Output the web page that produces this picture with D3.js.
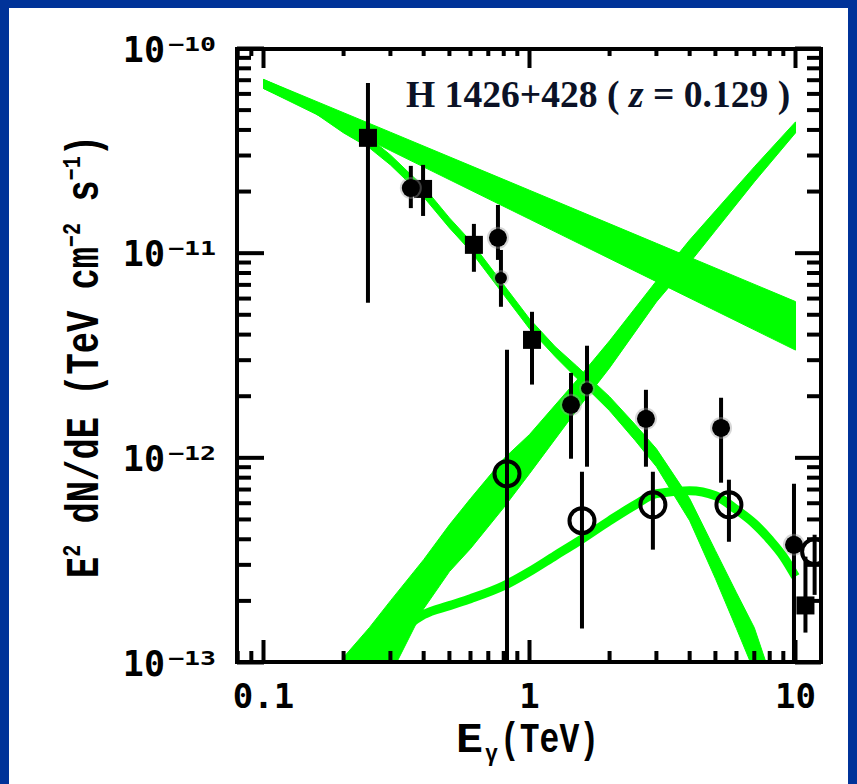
<!DOCTYPE html>
<html>
<head>
<meta charset="utf-8">
<script src="https://cdn.jsdelivr.net/npm/d3@7"></script>
<style>
  html, body { margin: 0; padding: 0; background: #003399; }
  svg { display: block; }
</style>
</head>
<body>
<svg id="chart" width="857" height="784"></svg>
<script>
// ---- axis domains and tick labels ----
const xDomain = [0.0795, 12.47];          // TeV, edges of the frame
const yDomain = [1e-13, 1e-10];           // TeV cm^-2 s^-1
const xTickValues = [0.1, 1, 10];
const xTickText = ["0.1", "1", "10"];
const yTickValues = [1e-10, 1e-11, 1e-12, 1e-13];
const yTickExp = ["\u221210", "\u221211", "\u221212", "\u221213"];

// ---- model bands (energy, lower and upper flux) ----
const intrinsicE  = [0.1, 0.3, 1, 3, 10];
const intrinsicLo = [6.38e-11, 3.17e-11, 1.467e-11, 7.26e-12, 3.36e-12];
const intrinsicHi = [7.06e-11, 3.90e-11, 2.03e-11, 1.117e-11, 5.80e-12];

const absorbedE  = [0.1, 0.15, 0.2, 0.25, 0.3, 0.4, 0.5, 0.6, 0.8, 1, 1.25, 1.5, 2, 2.5, 3, 4, 5, 6, 7, 8];
const absorbedLo = [6.38e-11, 5.01e-11, 3.87e-11, 3.27e-11, 2.70e-11, 1.88e-11, 1.329e-11, 1.026e-11, 6.26e-12, 4.27e-12,
                    3.12e-12, 2.46e-12, 1.70e-12, 1.213e-12, 9.05e-13, 4.93e-13, 2.57e-13, 1.464e-13, 9.03e-14, 4.92e-14];
const absorbedHi = [7.06e-11, 5.60e-11, 4.33e-11, 3.66e-11, 3.02e-11, 2.11e-11, 1.487e-11, 1.148e-11, 7.00e-12, 4.78e-12,
                    3.49e-12, 2.82e-12, 1.99e-12, 1.451e-12, 1.107e-12, 6.32e-13, 3.52e-13, 2.19e-13, 1.48e-13, 8.83e-14];

const risingE  = [0.2, 0.25, 0.3, 0.4, 0.5, 0.6, 0.8, 1, 1.5, 2, 3, 4, 5, 7, 10];
const risingLo = [3.4e-14, 5.6e-14, 8.7e-14, 1.83e-13, 2.78e-13, 3.60e-13, 5.71e-13, 8.37e-13, 1.70e-12, 2.75e-12,
                  5.78e-12, 8.97e-12, 1.29e-11, 2.23e-11, 3.87e-11];
const risingHi = [1.06e-13, 1.48e-13, 2.0e-13, 3.18e-13, 4.71e-13, 6.32e-13, 9.9e-13, 1.30e-12, 2.38e-12, 3.73e-12,
                  7.32e-12, 1.16e-11, 1.61e-11, 2.64e-11, 4.38e-11];

// ---- model curve through the open points ----
const curveE = [0.25, 0.3, 0.4, 0.5, 0.6, 0.8, 1, 1.25, 1.5, 2, 2.5, 3, 4, 5, 6, 7, 8, 9, 10];
const curveF = [9.44e-14, 1.265e-13, 1.714e-13, 1.896e-13, 2.05e-13, 2.37e-13, 2.78e-13, 3.33e-13, 3.85e-13,
                4.93e-13, 5.90e-13, 6.68e-13, 6.91e-13, 6.53e-13, 5.58e-13, 4.77e-13, 3.98e-13, 3.29e-13, 2.63e-13];

// ---- measured points ----
const squareE  = [0.247, 0.398, 0.618, 1.022, 10.9];
const squareF  = [3.66e-11, 2.06e-11, 1.098e-11, 3.77e-12, 1.90e-13];
const squareHi = [6.79e-11, 2.70e-11, 1.39e-11, 5.17e-12, 3.29e-13];
const squareLo = [5.72e-12, 1.52e-11, 8.11e-12, 2.28e-12, 1.40e-13];

const dotE  = [0.358, 0.761, 1.432, 2.74, 5.25, 9.87];
const dotF  = [2.08e-11, 1.188e-11, 1.816e-12, 1.552e-12, 1.40e-12, 3.76e-13];
const dotHi = [2.67e-11, 1.72e-11, 2.60e-12, 2.15e-12, 1.966e-12, 7.47e-13];
const dotLo = [1.66e-11, 9.27e-12, 9.90e-13, 9.05e-13, 7.56e-13, 5e-14];

const smallDotE  = [0.781, 1.645];
const smallDotF  = [7.57e-12, 2.18e-12];
const smallDotHi = [1.037e-11, 3.53e-12];
const smallDotLo = [5.47e-12, 9.05e-13];

const ringE  = [0.823, 1.575, 2.91, 5.62, 11.8];
const ringF  = [8.36e-13, 4.93e-13, 5.90e-13, 5.90e-13, 3.48e-13];
const ringHi = [3.37e-12, 8.55e-13, 8.55e-13, 7.82e-13, 4.21e-13];
const ringLo = [5e-14, 1.464e-13, 3.56e-13, 3.89e-13, 2.14e-13];

// ---- layout ----
const frame = { left: 237, right: 821, top: 49, bottom: 662 };
const GREEN = "#00ff00";

const svg = d3.select("#chart");
svg.append("rect").attr("x", 9).attr("y", 8).attr("width", 839).attr("height", 776).attr("fill", "#ffffff");

const x = d3.scaleLog().domain(xDomain).range([frame.left, frame.right]);
const y = d3.scaleLog().domain(yDomain).range([662.5, 48.5]);

svg.append("defs").append("clipPath").attr("id", "plotClip")
  .append("rect")
  .attr("x", frame.left).attr("y", frame.top)
  .attr("width", frame.right - frame.left).attr("height", frame.bottom - frame.top);

const plot = svg.append("g").attr("clip-path", "url(#plotClip)");

const zipBand = (E, lo, hi) => E.map((e, i) => ({ e, lo: lo[i], hi: hi[i] }));
const area = d3.area().x(d => x(d.e)).y0(d => y(d.lo)).y1(d => y(d.hi));

[[intrinsicE, intrinsicLo, intrinsicHi],
 [absorbedE, absorbedLo, absorbedHi],
 [risingE, risingLo, risingHi]].forEach(([E, lo, hi]) => {
  plot.append("path").datum(zipBand(E, lo, hi))
    .attr("d", area).attr("fill", GREEN).attr("stroke", GREEN).attr("stroke-width", 1);
});

plot.append("path")
  .datum(curveE.map((e, i) => ({ e, f: curveF[i] })))
  .attr("d", d3.line().curve(d3.curveMonotoneX).x(d => x(d.e)).y(d => y(d.f)))
  .attr("fill", "none").attr("stroke", GREEN).attr("stroke-width", 9);

// error bars
function errorBars(E, hi, lo) {
  plot.append("g").selectAll("line").data(E).join("line")
    .attr("x1", d => x(d)).attr("x2", d => x(d))
    .attr("y1", (d, i) => y(hi[i])).attr("y2", (d, i) => y(lo[i]))
    .attr("stroke", "#000").attr("stroke-width", 4);
}
errorBars(squareE, squareHi, squareLo);
errorBars(dotE, dotHi, dotLo);
errorBars(smallDotE, smallDotHi, smallDotLo);
errorBars(ringE, ringHi, ringLo);

// filled squares
plot.append("g").selectAll("rect").data(squareE).join("rect")
  .attr("x", d => x(d) - 9).attr("y", (d, i) => y(squareF[i]) - 9)
  .attr("width", 18).attr("height", 18).attr("fill", "#000");

// filled dots with a soft grey rim
function dots(E, F, r) {
  const g = plot.append("g");
  g.selectAll("circle.rim").data(E).join("circle").attr("class", "rim")
    .attr("cx", d => x(d)).attr("cy", (d, i) => y(F[i])).attr("r", r + 2)
    .attr("fill", "#9a9a9a").attr("opacity", 0.4);
  g.selectAll("circle.core").data(E).join("circle").attr("class", "core")
    .attr("cx", d => x(d)).attr("cy", (d, i) => y(F[i])).attr("r", r)
    .attr("fill", "#000");
}
dots(dotE, dotF, 9);
dots(smallDotE, smallDotF, 6);

// open rings
plot.append("g").selectAll("circle").data(ringE).join("circle")
  .attr("cx", d => x(d)).attr("cy", (d, i) => y(ringF[i])).attr("r", 12.5)
  .attr("fill", "none").attr("stroke", "#000").attr("stroke-width", 4);

// ---- frame and ticks ----
const isMajor = v => Math.abs(Math.log10(v) - Math.round(Math.log10(v))) < 1e-6;
const ticks = svg.append("g").attr("stroke", "#000").attr("stroke-width", 4);
x.ticks().forEach(v => {
  const px = x(v), maj = isMajor(v);
  ticks.append("line").attr("x1", px).attr("x2", px)
    .attr("y1", frame.bottom).attr("y2", frame.bottom - (maj ? 22 : 11));
  ticks.append("line").attr("x1", px).attr("x2", px)
    .attr("y1", frame.top).attr("y2", frame.top + (maj ? 19 : 7));
});
y.ticks().forEach(v => {
  const py = y(v), maj = isMajor(v);
  ticks.append("line").attr("y1", py).attr("y2", py)
    .attr("x1", frame.left).attr("x2", frame.left + (maj ? 27 : 14));
  ticks.append("line").attr("y1", py).attr("y2", py)
    .attr("x1", frame.right).attr("x2", frame.right - (maj ? 26 : 14));
});
svg.append("rect")
  .attr("x", frame.left).attr("y", frame.top)
  .attr("width", frame.right - frame.left).attr("height", frame.bottom - frame.top)
  .attr("fill", "none").attr("stroke", "#000").attr("stroke-width", 4);

// ---- tick labels ----
const monoFont = "'DejaVu Sans Mono', monospace";
svg.append("g").selectAll("text").data(xTickValues).join("text")
  .attr("x", d => x(d)).attr("y", 708)
  .attr("text-anchor", "middle")
  .attr("font-family", monoFont).attr("font-weight", "bold").attr("font-size", 34)
  .text((d, i) => xTickText[i]);

const yLab = svg.append("g").attr("font-family", monoFont).attr("font-weight", "bold");
yTickValues.forEach((v, i) => {
  const py = y(v);
  yLab.append("text").attr("x", 165).attr("y", py + 13)
    .attr("text-anchor", "end").attr("font-size", 35).text("10");
  yLab.append("text").attr("x", 168).attr("y", py + 2)
    .attr("font-size", 20).attr("textLength", 48).attr("lengthAdjust", "spacingAndGlyphs")
    .text(yTickExp[i]);
});

// ---- axis titles ----
const titleFont = "'Liberation Mono', 'Courier New', monospace";
const xTitle = svg.append("g")
  .attr("font-family", titleFont).attr("font-weight", "bold");
xTitle.append("text").attr("x", 456).attr("y", 752).attr("font-size", 42)
  .attr("textLength", 27).attr("lengthAdjust", "spacingAndGlyphs").text("E");
xTitle.append("text").attr("x", 485).attr("y", 761).attr("font-size", 24)
  .attr("textLength", 13).attr("lengthAdjust", "spacingAndGlyphs").text("\u03b3");
xTitle.append("text").attr("x", 500).attr("y", 752).attr("font-size", 42)
  .attr("textLength", 99).attr("lengthAdjust", "spacingAndGlyphs").text("(TeV)");

const yt = svg.append("text")
  .attr("transform", "translate(98,356.5) rotate(-90)")
  .attr("text-anchor", "middle")
  .attr("font-family", titleFont).attr("font-weight", "bold").attr("font-size", 46)
  .attr("textLength", 443).attr("lengthAdjust", "spacingAndGlyphs");
yt.append("tspan").text("E");
yt.append("tspan").attr("font-size", 26).attr("dy", -18).text("2");
yt.append("tspan").attr("dy", 18).text(" dN/dE (TeV cm");
yt.append("tspan").attr("font-size", 26).attr("dy", -18).text("\u22122");
yt.append("tspan").attr("dy", 18).text(" s");
yt.append("tspan").attr("font-size", 26).attr("dy", -18).text("\u22121");
yt.append("tspan").attr("dy", 18).text(")");

// ---- source label ----
const lab = svg.append("text")
  .attr("x", 406).attr("y", 107)
  .attr("font-family", "'Liberation Serif', 'Times New Roman', serif")
  .attr("font-weight", "bold").attr("font-size", 37.6).attr("fill", "#0b1226");
lab.append("tspan").text("H 1426+428 ( ");
lab.append("tspan").attr("font-style", "italic").text("z");
lab.append("tspan").text(" = 0.129 )");
</script>
</body>
</html>
